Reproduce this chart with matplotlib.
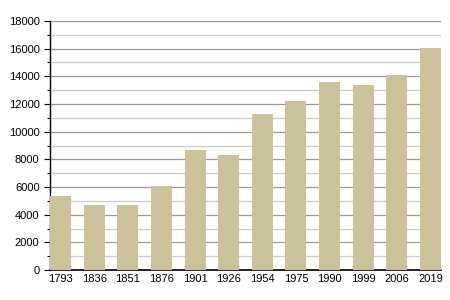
import matplotlib.pyplot as plt
import numpy as np
from matplotlib.ticker import MultipleLocator

years = ["1793", "1836", "1851", "1876", "1901", "1926",
         "1954", "1975", "1990", "1999", "2006", "2019"]
population = [5350, 4700, 4700, 6050, 8650, 8300,
              11250, 12250, 13600, 13400, 14100, 16050]

plt.rcParams["font.family"] = ["Liberation Sans", "DejaVu Sans"]

fig = plt.figure(figsize=(4.5, 3.0), dpi=100)
ax = fig.add_axes([0.111, 0.1, 0.869, 0.83])

bar_w = 0.625
x = np.arange(len(years))
ax.bar(x, population, width=bar_w, color="#cbc29c", zorder=3)

ax.set_xlim(-bar_w / 2, len(years) - 1 + bar_w / 2)
ax.set_ylim(0, 18000)
ax.set_xticks(x)
ax.set_xticklabels(years)
ax.yaxis.set_major_locator(MultipleLocator(2000))
ax.yaxis.set_minor_locator(MultipleLocator(1000))

ax.grid(axis="y", which="major", color="#999999", lw=0.9, zorder=0)
ax.grid(axis="y", which="minor", color="#cccccc", lw=0.9, zorder=0)

for side in ("top", "right"):
    ax.spines[side].set_visible(False)
ax.spines["left"].set_linewidth(1.0)
ax.spines["bottom"].set_linewidth(1.2)

ax.tick_params(axis="x", length=0, pad=3, labelsize=8)
ax.tick_params(axis="y", which="major", length=4, width=0.8, labelsize=8)
ax.tick_params(axis="y", which="minor", length=2.5, width=0.8)

fig.savefig("out.png", dpi=100)
